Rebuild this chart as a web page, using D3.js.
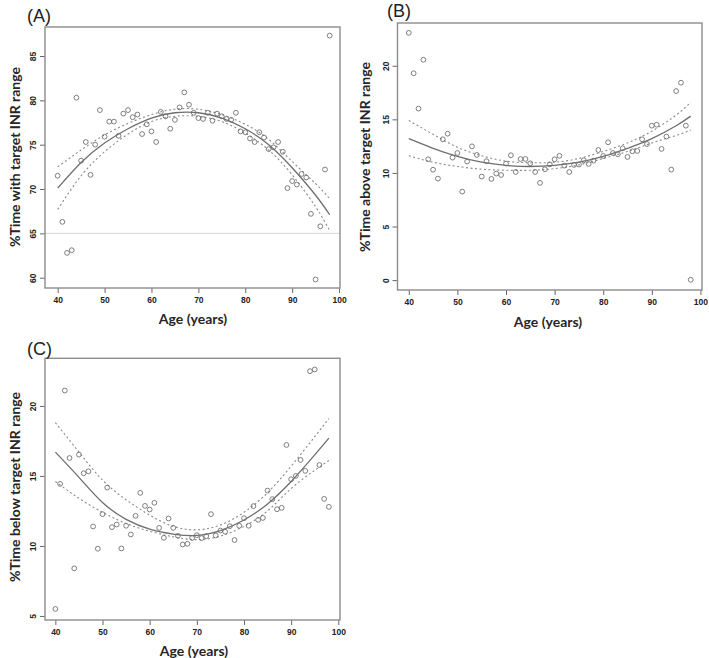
<!DOCTYPE html>
<html><head><meta charset="utf-8">
<script src="https://cdn.jsdelivr.net/npm/d3@7"></script>
<style>
html,body{margin:0;padding:0;background:#fff;}
svg{display:block;}
.tick text{font-family:"Liberation Sans",Arial,sans-serif;font-weight:bold;font-size:8.5px;fill:#222;}
.axlab{font-family:Lato,"Open Sans",sans-serif;font-weight:bold;font-size:14px;fill:#262626;}
.plab{font-family:"Liberation Sans",Arial,sans-serif;font-size:18px;fill:#222;}
</style></head>
<body><svg id="chart" width="709" height="658"></svg>
<script>
// ---- data ----
const ages = d3.range(40, 99); // 40..98
const inRange = [71.5,66.3,62.8,63.1,80.3,73.2,75.3,71.6,75.0,78.9,75.9,77.6,77.6,76.0,78.5,78.9,78.1,78.4,76.2,77.3,
  76.5,75.3,78.7,78.2,76.8,77.8,79.2,80.9,79.5,78.6,78.0,77.9,78.6,77.7,78.5,78.2,77.9,77.8,78.6,76.5,
  76.4,75.7,75.3,76.4,75.8,74.5,74.7,75.3,74.2,70.1,70.9,70.5,71.7,71.3,67.2,59.8,65.8,72.2,87.3];
const aboveRange = [23.07,19.3,16.0,20.56,11.27,10.3,9.47,13.14,13.66,11.43,11.86,8.26,11.06,12.48,11.68,9.66,11.09,9.44,9.94,9.81,
  10.87,11.65,10.09,11.3,11.3,10.9,10.09,9.07,10.34,10.8,11.27,11.6,10.68,10.09,10.75,10.78,11.18,10.84,11.15,12.14,
  11.58,12.86,11.86,11.74,12.3,11.49,12.02,12.05,13.14,12.7,14.41,14.5,12.24,13.39,10.31,17.64,18.42,14.41,0.03];
const belowRange = [5.5,14.43,21.1,16.28,8.4,16.52,15.19,15.33,11.39,9.8,12.27,14.17,11.34,11.53,9.82,11.44,10.82,12.15,13.79,12.86,
  12.6,13.08,11.29,10.58,11.96,11.29,10.72,10.1,10.15,10.57,10.77,10.56,10.7,12.27,10.75,11.1,11.01,11.41,10.42,11.44,
  11.98,11.44,12.84,11.86,12.0,13.95,13.34,12.62,12.72,17.21,14.76,15.0,16.14,15.36,22.48,22.6,15.78,13.36,12.79];

// fitted curves with 95% CI
const fitAges = [40,45,50,55,60,65,70,75,80,85,90,95,98];
const fitA  = [70.1,73.0,75.2,76.8,78.0,78.6,78.6,78.0,76.8,75.0,72.4,69.3,67.1];
const upA   = [72.5,74.4,76.1,77.4,78.4,79.0,79.0,78.4,77.3,75.6,73.1,70.6,68.9];
const loA   = [67.7,71.5,74.2,76.2,77.6,78.2,78.2,77.6,76.3,74.4,71.6,68.0,65.3];
const fitB  = [13.2,12.3,11.55,11.0,10.7,10.6,10.7,11.0,11.55,12.3,13.2,14.4,15.3];
const upB   = [14.9,13.6,12.4,11.6,11.1,10.95,11.0,11.35,12.0,12.8,13.9,15.4,16.6];
const loB   = [11.6,11.0,10.6,10.35,10.25,10.25,10.4,10.75,11.35,12.0,12.8,13.5,14.0];
const fitC  = [16.7,14.9,13.1,11.9,11.2,10.85,10.75,11.1,11.85,13.0,14.6,16.5,17.7];
const upC   = [18.8,16.7,14.7,13.3,12.2,11.4,11.15,11.5,12.4,13.8,15.7,17.8,19.1];
const loC   = [14.6,13.4,12.4,11.6,11.05,10.65,10.45,10.7,11.4,12.5,14.1,15.4,16.1];

const xTicks = [40,50,60,70,80,90,100];
const yTicksA = [60,65,70,75,80,85];
const yTicksB = [0,5,10,15,20];
const yTicksC = [5,10,15,20];

const panels = [
  {label:"(A)", ylab:"%Time with target INR range", vals:inRange, fit:fitA, up:upA, lo:loA, yt:yTicksA,
   xd:[37.3,100.2], xr:[45,340], yd:[58.84,88.27], yr:[288,27], refLine:65,
   lab:[27,22], yl:[15,157], xl:[193,324]},
  {label:"(B)", ylab:"%Time above target INR range", vals:aboveRange, fit:fitB, up:upB, lo:loB, yt:yTicksB,
   xd:[37.68,100.32], xr:[397.5,702], yd:[-0.923,23.99], yr:[290,23], refLine:null,
   lab:[387,17], yl:[365,157], xl:[548,327]},
  {label:"(C)", ylab:"%Time below target INR range", vals:belowRange, fit:fitC, up:upC, lo:loC, yt:yTicksC,
   xd:[37.8,100.36], xr:[45,340], yd:[4.71,23.4], yr:[620,358.3], refLine:null,
   lab:[27,355], yl:[15,487], xl:[194,656]}
];

const svg = d3.select("#chart");

panels.forEach(p => {
  const x = d3.scaleLinear().domain(p.xd).range(p.xr);
  const y = d3.scaleLinear().domain(p.yd).range(p.yr);
  const g = svg.append("g");

  if (p.refLine !== null) {
    g.append("line").attr("x1", p.xr[0]).attr("x2", p.xr[1])
      .attr("y1", y(p.refLine)).attr("y2", y(p.refLine))
      .attr("stroke", "#d6d6d6").attr("stroke-width", 1);
  }

  const xa = g.append("g").attr("transform", `translate(0,${p.yr[0]})`)
    .call(d3.axisBottom(x).tickValues(xTicks).tickSize(5).tickSizeOuter(0).tickPadding(4));
  xa.select(".domain").remove();
  xa.selectAll(".tick line").attr("stroke", "#666");

  const ya = g.append("g").attr("transform", `translate(${p.xr[0]},0)`)
    .call(d3.axisLeft(y).tickValues(p.yt).tickSize(5).tickSizeOuter(0));
  ya.select(".domain").remove();
  ya.selectAll(".tick line").attr("stroke", "#666");
  ya.selectAll(".tick text").attr("transform", "rotate(-90)")
    .attr("x", 0).attr("y", -9).attr("dy", 0).attr("text-anchor", "middle");

  g.append("rect").attr("x", p.xr[0]).attr("y", p.yr[1])
    .attr("width", p.xr[1]-p.xr[0]).attr("height", p.yr[0]-p.yr[1])
    .attr("fill", "none").attr("stroke", "#8c8c8c").attr("stroke-width", 1.4);

  const line = d3.line().x((d,i) => x(fitAges[i])).y(d => y(d)).curve(d3.curveNatural);
  g.append("path").attr("d", line(p.up)).attr("fill","none").attr("stroke","#8a8a8a")
    .attr("stroke-width",1.1).attr("stroke-dasharray","2,2.5");
  g.append("path").attr("d", line(p.lo)).attr("fill","none").attr("stroke","#8a8a8a")
    .attr("stroke-width",1.1).attr("stroke-dasharray","2,2.5");
  g.append("path").attr("d", line(p.fit)).attr("fill","none").attr("stroke","#6e6e6e")
    .attr("stroke-width",1.3);

  g.selectAll("circle.pt").data(p.vals).enter().append("circle").attr("class","pt")
    .attr("cx", (d,i) => x(ages[i])).attr("cy", d => y(d)).attr("r", 2.4)
    .attr("fill","none").attr("stroke","#707070").attr("stroke-width",0.9);

  svg.append("text").attr("class","plab").attr("x", p.lab[0]).attr("y", p.lab[1]).text(p.label);
  svg.append("text").attr("class","axlab").attr("text-anchor","middle")
    .attr("transform", `translate(${p.yl[0]},${p.yl[1]}) rotate(-90)`).attr("dy","0.35em").text(p.ylab);
  svg.append("text").attr("class","axlab").attr("text-anchor","middle")
    .attr("x", p.xl[0]).attr("y", p.xl[1]).text("Age (years)");
});
</script></body></html>
